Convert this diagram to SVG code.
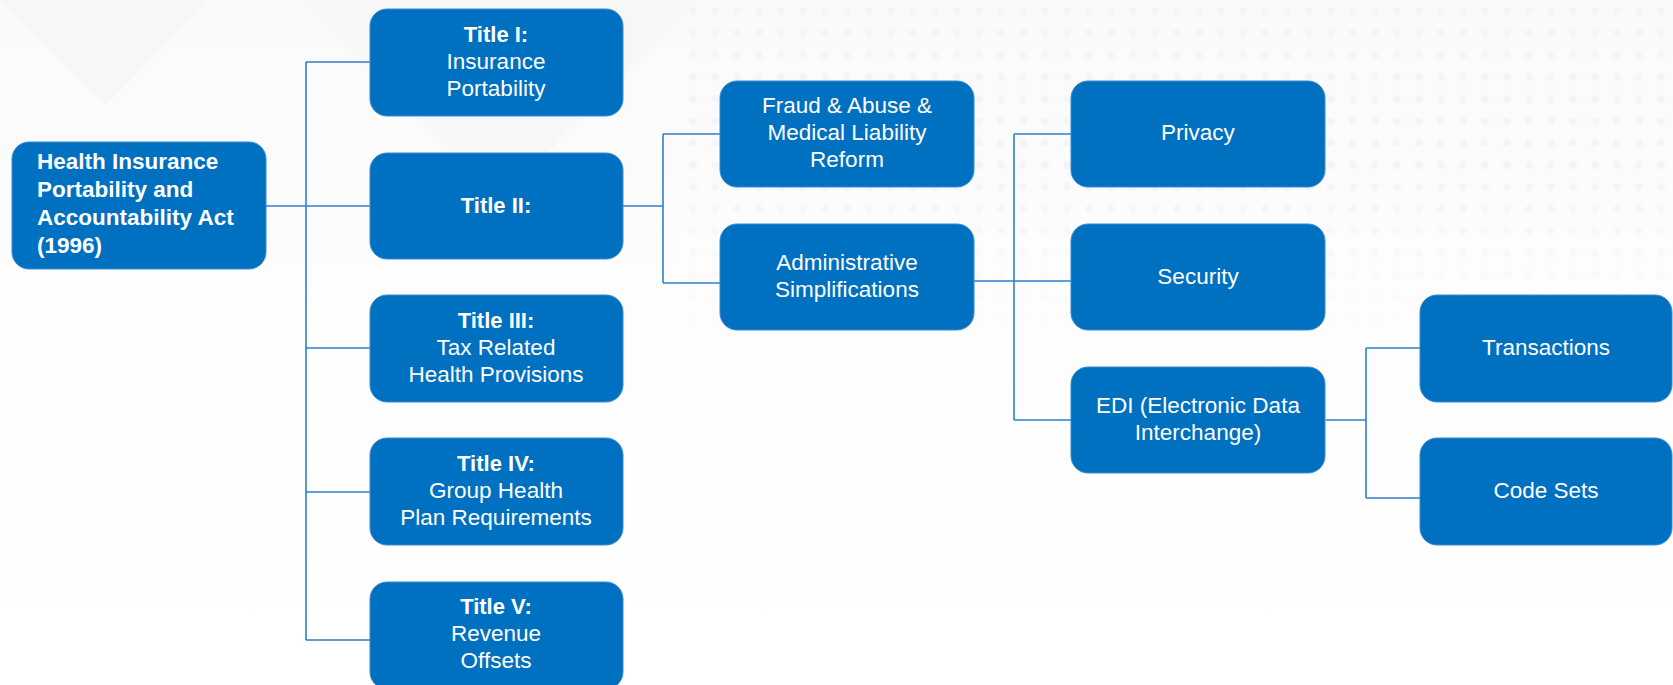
<svg xmlns="http://www.w3.org/2000/svg" width="1673" height="685" viewBox="0 0 1673 685">
  <defs>
    <pattern id="dots" x="0" y="0" width="22" height="22" patternUnits="userSpaceOnUse">
      <circle cx="11" cy="11" r="4" fill="#f4f5f6"/>
    </pattern>
    <linearGradient id="fade" x1="0" y1="0" x2="0" y2="1">
      <stop offset="0" stop-color="#fdfdfd" stop-opacity="0"/>
      <stop offset="1" stop-color="#fdfdfd" stop-opacity="1"/>
    </linearGradient>
    <linearGradient id="bg" x1="0" y1="0" x2="0" y2="1">
      <stop offset="0" stop-color="#fafafa"/>
      <stop offset="0.5" stop-color="#fdfdfd"/>
      <stop offset="1" stop-color="#ffffff"/>
    </linearGradient>
  </defs>
  <style>
    .box { fill: #0070c0; stroke: #3b8bd0; stroke-width: 1; }
    .conn { fill: none; stroke: #2f80c8; stroke-width: 1.6; }
    text { font-family: "Liberation Sans", Arial, sans-serif; fill: #ffffff; }
    .t { font-size: 22.5px; text-anchor: middle; }
    .b { font-weight: bold; font-size: 22px; }
    .root { font-size: 22.5px; font-weight: bold; }
  </style>
  <rect x="0" y="0" width="1673" height="685" fill="url(#bg)"/>
  <rect x="680" y="0" width="993" height="340" fill="url(#dots)"/>
  <rect x="680" y="180" width="993" height="160" fill="url(#fade)"/>
  <path d="M0 0 L210 0 L105 105 Z M300 0 L700 0 L500 200 Z" fill="#f7f7f8"/>

  <g id="connectors">
    <path class="conn" d="M266 206 H306 M306 62 V640 M306 62 H370 M306 206 H370 M306 348 H370 M306 492 H370 M306 640 H370"/>
    <path class="conn" d="M623 206 H663 M663 134 V283 M663 134 H720 M663 283 H720"/>
    <path class="conn" d="M974 281 H1071 M1014 134 V420 M1014 134 H1071 M1014 420 H1071"/>
    <path class="conn" d="M1326 420 H1366 M1366 348 V498 M1366 348 H1420 M1366 498 H1420"/>
  </g>

  <g id="root">
    <rect class="box" x="12" y="142" width="254" height="127" rx="17"/>
    <text class="root" x="37" y="169">Health Insurance</text>
    <text class="root" x="37" y="197">Portability and</text>
    <text class="root" x="37" y="225">Accountability Act</text>
    <text class="root" x="37" y="253">(1996)</text>
  </g>

  <g id="title1">
    <rect class="box" x="370" y="9" width="253" height="107" rx="17"/>
    <text class="t b" x="496" y="42">Title I:</text>
    <text class="t" x="496" y="69">Insurance</text>
    <text class="t" x="496" y="96">Portability</text>
  </g>
  <g id="title2">
    <rect class="box" x="370" y="153" width="253" height="106" rx="17"/>
    <text class="t b" x="496" y="213">Title II:</text>
  </g>
  <g id="title3">
    <rect class="box" x="370" y="295" width="253" height="107" rx="17"/>
    <text class="t b" x="496" y="328">Title III:</text>
    <text class="t" x="496" y="355">Tax Related</text>
    <text class="t" x="496" y="382">Health Provisions</text>
  </g>
  <g id="title4">
    <rect class="box" x="370" y="438" width="253" height="107" rx="17"/>
    <text class="t b" x="496" y="471">Title IV:</text>
    <text class="t" x="496" y="498">Group Health</text>
    <text class="t" x="496" y="525">Plan Requirements</text>
  </g>
  <g id="title5">
    <rect class="box" x="370" y="582" width="253" height="107" rx="17"/>
    <text class="t b" x="496" y="614">Title V:</text>
    <text class="t" x="496" y="641">Revenue</text>
    <text class="t" x="496" y="668">Offsets</text>
  </g>

  <g id="fraud">
    <rect class="box" x="720" y="81" width="254" height="106" rx="17"/>
    <text class="t" x="847" y="113">Fraud &amp; Abuse &amp;</text>
    <text class="t" x="847" y="140">Medical Liability</text>
    <text class="t" x="847" y="167">Reform</text>
  </g>
  <g id="admin">
    <rect class="box" x="720" y="224" width="254" height="106" rx="17"/>
    <text class="t" x="847" y="270">Administrative</text>
    <text class="t" x="847" y="297">Simplifications</text>
  </g>

  <g id="privacy">
    <rect class="box" x="1071" y="81" width="254" height="106" rx="17"/>
    <text class="t" x="1198" y="140">Privacy</text>
  </g>
  <g id="security">
    <rect class="box" x="1071" y="224" width="254" height="106" rx="17"/>
    <text class="t" x="1198" y="284">Security</text>
  </g>
  <g id="edi">
    <rect class="box" x="1071" y="367" width="254" height="106" rx="17"/>
    <text class="t" x="1198" y="413">EDI (Electronic Data</text>
    <text class="t" x="1198" y="440">Interchange)</text>
  </g>

  <g id="transactions">
    <rect class="box" x="1420" y="295" width="252" height="107" rx="17"/>
    <text class="t" x="1546" y="355">Transactions</text>
  </g>
  <g id="codesets">
    <rect class="box" x="1420" y="438" width="252" height="107" rx="17"/>
    <text class="t" x="1546" y="498">Code Sets</text>
  </g>
</svg>
